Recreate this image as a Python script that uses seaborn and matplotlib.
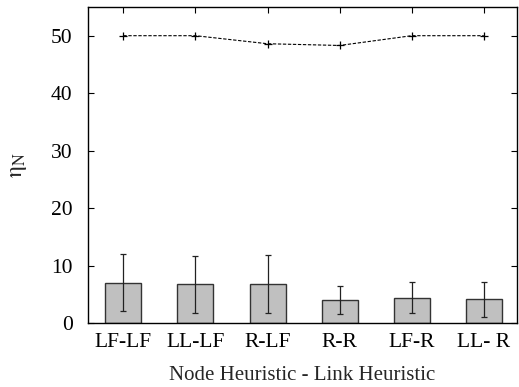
import numpy as np
import pandas as pd
import matplotlib
matplotlib.use('Agg')
import matplotlib.pyplot as plt
import seaborn as sns

categories = ['LF-LF', 'LL-LF', 'R-LF', 'R-R', 'LF-R', 'LL- R']
bar_mean = [7.0, 6.7, 6.8, 4.0, 4.4, 4.1]
bar_err = [5.0, 4.9, 5.0, 2.5, 2.7, 3.0]
line_vals = [50.0, 50.0, 48.6, 48.3, 50.0, 50.0]

sns.set_theme(style='ticks')
plt.rcParams['font.family'] = ['Liberation Serif', 'DejaVu Serif']
plt.rcParams['mathtext.fontset'] = 'stix'

df = pd.DataFrame({'cat': categories, 'mean': bar_mean, 'err': bar_err,
                   'line': line_vals, 'pos': np.arange(len(categories))})

fig = plt.figure(figsize=(5.19, 3.87), dpi=100)
ax = fig.add_axes([0.1696, 0.1654, 0.8265, 0.8166])

sns.barplot(data=df, x='cat', y='mean', ax=ax, color='#c0c0c0',
            edgecolor='#333333', linewidth=1.0, width=0.5, saturation=1)
ax.errorbar(df['pos'], df['mean'], yerr=df['err'], fmt='none',
            ecolor='#222222', elinewidth=0.9, capsize=2.5, capthick=0.9)
sns.lineplot(data=df, x='pos', y='line', ax=ax, color='black',
             linestyle=(0, (3, 1.5)), linewidth=0.8, marker='+',
             markersize=6, markeredgewidth=0.9, markeredgecolor='black')

ax.set_xlim(-0.49, 5.46)
ax.set_ylim(0, 55)
ax.set_yticks([0, 10, 20, 30, 40, 50])
ax.tick_params(direction='in', top=True, right=True, length=4, width=0.8,
               labelsize=15.5, colors='black')
ax.tick_params(axis='y', pad=11)
ax.tick_params(axis='x', pad=7)
for s in ax.spines.values():
    s.set_visible(True)
    s.set_linewidth(1.0)
    s.set_color('black')
ax.set_xlabel('Node Heuristic - Link Heuristic', fontsize=15, labelpad=10)
ax.set_ylabel(r'$\mathrm{\eta}_\mathrm{N}$', fontsize=17, labelpad=16)

fig.savefig('out.png', dpi=100)
